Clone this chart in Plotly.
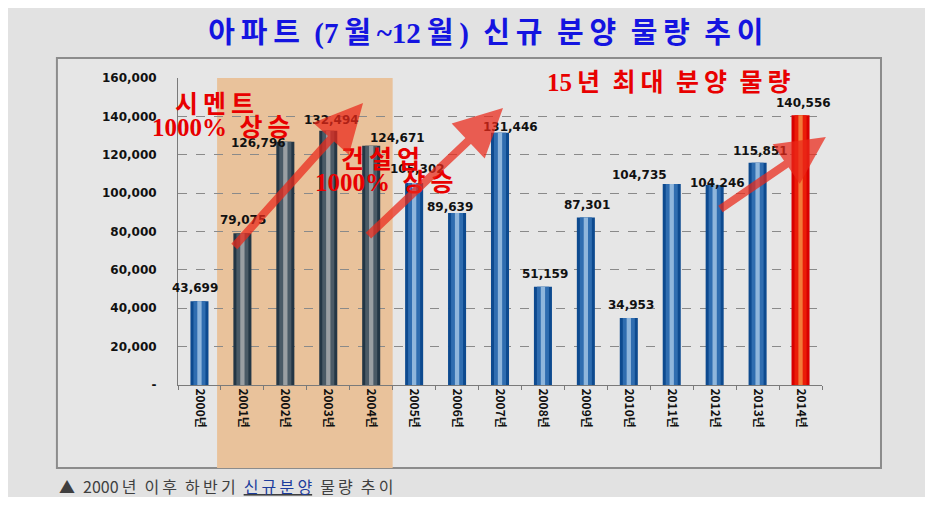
import plotly.graph_objects as go

years = [f"{y}년" for y in range(2000, 2015)]
supply = [43699, 79075, 126796, 132494, 124671, 105302, 89639, 131446,
          51159, 87301, 34953, 104735, 104246, 115851, 140556]
# 2001~2004 highlighted (cement / construction surge), 2014 record high
groups = ["base", "surge", "surge", "surge", "surge", "base", "base", "base",
          "base", "base", "base", "base", "base", "base", "peak"]
y_ticks = [0, 20000, 40000, 60000, 80000, 100000, 120000, 140000, 160000]
y_tick_text = ["-"] + [f"{v:,}" for v in y_ticks[1:]]

# hand-placed data labels in the original (pixel nudges)
label_dx = [-4, 1, -27, 3, 26, 3, -7, 10, 2, 1, 2, -32, 3, 3, 3]
label_dy = [13, 13, -1, 11, 8, 14, 6, 6, 13, 12, 13, 9, 2, 12, 12]

palette = {
    "base": ("#0d4a8f", "#2f6db0", "#8fb6dc"),
    "surge": ("#233645", "#4a5a66", "#9a9fa3"),
    "peak": ("#d80000", "#ea1c08", "#f27a3a"),
}


def spaced(s):
    # wide-set lettering around hangul, like the gungsuh-style original
    out = s[0]
    for a, b in zip(s, s[1:]):
        if " " not in (a, b) and (ord(a) >= 0xAC00 or ord(b) >= 0xAC00):
            out += "\u2009"
        out += b
    return out.replace(" ", "\u2002")


fig = go.Figure()
for layer, width in enumerate((0.42, 0.28, 0.1)):
    fig.add_trace(go.Bar(
        x=years, y=supply, width=width,
        marker=dict(color=[palette[g][layer] for g in groups], line_width=0),
        hoverinfo="skip",
    ))

shapes = [
    dict(type="rect", xref="paper", yref="paper", x0=-0.188, x1=1.0916, y0=-0.27, y1=1.065,
         fillcolor="#e6e6e6", line=dict(color="#8c8c8c", width=2), layer="below"),
    dict(type="rect", xref="x", yref="paper", x0=0.41, x1=4.5, y0=-0.27, y1=1.0,
         fillcolor="#e9c29b", line_width=0, layer="below"),
]

annotations = []
for yr, v, dx, dy in zip(years, supply, label_dx, label_dy):
    annotations.append(dict(
        x=yr, y=v, xref="x", yref="y", text=f"<b>{v:,}</b>", showarrow=False,
        xshift=dx, yshift=dy, yanchor="middle",
        font=dict(family="DejaVu Sans", size=12, color="#111111"),
    ))

red = "#e80000"
note_font = dict(family="Liberation Serif, Noto Sans CJK KR", size=25, color=red)
for x, y, txt in [(0.36, 146000, "시멘트"), (0.52, 134000, "1000% 상승"),
                  (4.21, 117300, "건설업"), (4.32, 105300, "1000% 상승"),
                  (10.94, 157900, "15년 최대 분양 물량")]:
    annotations.append(dict(x=x, y=y, xref="x", yref="y", showarrow=False,
                            text="<b>" + spaced(txt) + "</b>", font=note_font))

for (x0, y0), (x1, y1) in [((0.78, 71400), (3.81, 147000)),
                           ((3.90, 77100), (7.07, 144400)),
                           ((12.10, 91200), (14.59, 129300))]:
    annotations.append(dict(
        x=x1, y=y1, ax=x0, ay=y0, xref="x", yref="y", axref="x", ayref="y",
        text="", showarrow=True, arrowhead=2, arrowsize=1.2, arrowwidth=8,
        arrowcolor="rgba(235,40,25,0.72)",
    ))

annotations.append(dict(
    xref="paper", yref="paper", x=-0.188, y=-0.328, xanchor="left", yanchor="middle",
    showarrow=False,
    text=spaced("▲ 2000년 이후 하반기 ")
         + "<u><span style='color:#1c3c9c'>" + spaced("신규분양") + "</span></u>"
         + spaced(" 물량 추이"),
    font=dict(family="Noto Sans CJK KR", size=16, color="#3f3f3f"),
))

fig.update_layout(
    title=dict(text="<b>" + spaced("아파트 (7월~12월) 신규 분양 물량 추이") + "</b>",
               x=0.478, xref="paper", y=0.949, yanchor="middle",
               font=dict(family="Liberation Serif, Noto Sans CJK KR", size=29, color="#1414e0")),
    barmode="overlay", showlegend=False,
    width=917, height=489,
    margin=dict(l=170, r=103, t=70, b=112),
    paper_bgcolor="#e2e2e2", plot_bgcolor="rgba(0,0,0,0)",
    shapes=shapes, annotations=annotations,
)
fig.update_yaxes(
    range=[0, 160000], tickvals=y_ticks, ticktext=y_tick_text,
    tickfont=dict(family="DejaVu Sans", size=12, color="#111111", weight="bold"),
    showgrid=True, gridcolor="#8a8a8a", griddash="dash", gridwidth=1,
    showline=True, linecolor="#7a7a7a", linewidth=1, zeroline=False, ticklabelstandoff=18,
)
fig.update_xaxes(
    range=[-0.5, 14.5], tickangle=90,
    tickfont=dict(family="Noto Sans CJK KR", size=12, color="#111111", weight="bold"),
    showline=True, linecolor="#7a7a7a", linewidth=1,
    ticks="outside", tickson="boundaries", ticklen=4, tickcolor="#7a7a7a",
)

fig.write_html("out.html")
